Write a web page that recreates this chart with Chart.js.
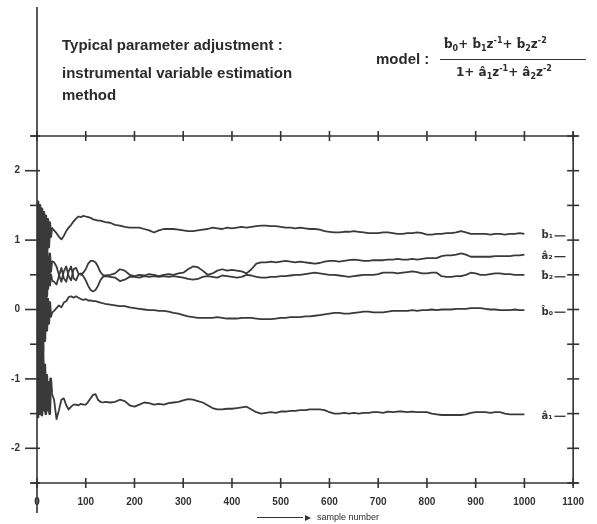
<!DOCTYPE html>
<html>
<head>
<meta charset="utf-8">
<script src="https://cdn.jsdelivr.net/npm/chart.js@4.4.0/dist/chart.umd.min.js"></script>
<style>
  body { margin: 0; background: #fff; }
  #wrap { position: relative; width: 597px; height: 524px; }
  .txt { position: absolute; font-family: 'Liberation Sans', Arial, sans-serif; font-weight: bold; color: #2b2b2b; white-space: nowrap; }
  .title { font-size: 15px; }
  .frac { font-family: 'DejaVu Sans', sans-serif; font-size: 12px; }
  .frac sub, .frac sup { font-size: 8px; }
  .rule { position: absolute; border-top: 1.5px solid #333; }
  .axisname { font-weight: normal; font-size: 9px; }
  .arrow { display: inline-block; width: 46px; border-top: 1px solid #333; vertical-align: middle; margin-right: 2px; }
  .head { display: inline-block; border-left: 6px solid #333; border-top: 3px solid transparent; border-bottom: 3px solid transparent; vertical-align: middle; margin-right: 6px; }
</style>
</head>
<body>
<div id="wrap">
  <canvas id="paramChart" width="597" height="524"></canvas>
  <div class="txt title" style="left:62px; top:36px;">Typical parameter adjustment :</div>
  <div class="txt title" style="left:62px; top:64px;">instrumental variable estimation</div>
  <div class="txt title" style="left:62px; top:86px;">method</div>
  <div class="txt title" style="left:376px; top:50px;">model :</div>
  <div class="txt frac" style="left:444px; top:36px;">b&#770;<sub>0</sub>+ b&#770;<sub>1</sub>z<sup>-1</sup>+ b&#770;<sub>2</sub>z<sup>-2</sup></div>
  <div class="rule" style="left:440px; top:59px; width:146px;"></div>
  <div class="txt frac" style="left:456px; top:64px;">1+ a&#770;<sub>1</sub>z<sup>-1</sup>+ a&#770;<sub>2</sub>z<sup>-2</sup></div>
  <div class="txt axisname" style="left:257px; top:512px;"><span class="arrow"></span><span class="head"></span>sample number</div>
</div>
<script>
// sample numbers shared by all five estimates
const samples = [
  0, 2, 4, 6, 8, 10, 12, 14, 16, 18, 20, 22, 24, 26, 28, 30,
  35, 40, 45, 50, 55, 60, 65, 70, 75, 80, 85, 90, 95, 100, 105, 110, 115, 120, 125, 130, 135, 140,
  150, 160, 170, 180, 190, 200, 210, 220, 230, 240,
  250, 260, 270, 280, 290, 300, 310, 320, 330, 340,
  350, 360, 370, 380, 390, 400, 410, 420, 430, 440,
  450, 460, 470, 480, 490, 500, 510, 520, 530, 540,
  550, 560, 570, 580, 590, 600, 610, 620, 630, 640,
  650, 660, 670, 680, 690, 700, 710, 720, 730, 740,
  750, 760, 770, 780, 790, 800, 810, 820, 830, 840,
  850, 860, 870, 880, 890, 900, 910, 920, 930, 940,
  950, 960, 970, 980, 990, 1000
];

const b1 = [
  0.2, 1.55, -0.5, 1.5, 0.1, 1.45, -0.2, 1.4, 0.5, 1.35, 0.7, 1.3, 0.9, 1.25, 1.05, 1.18,
  1.14, 1.10, 1.05, 1.01, 1.06, 1.13, 1.18, 1.22, 1.27, 1.31, 1.34, 1.33, 1.35, 1.34, 1.33, 1.32, 1.30, 1.29, 1.28, 1.28, 1.27, 1.26,
  1.25, 1.22, 1.21, 1.19, 1.18, 1.18, 1.18, 1.16, 1.14, 1.11,
  1.14, 1.16, 1.16, 1.16, 1.15, 1.14, 1.13, 1.13, 1.14, 1.15,
  1.16, 1.18, 1.17, 1.16, 1.18, 1.17, 1.18, 1.19, 1.18, 1.19,
  1.20, 1.21, 1.21, 1.20, 1.20, 1.19, 1.18, 1.18, 1.17, 1.18,
  1.17, 1.16, 1.16, 1.15, 1.13, 1.12, 1.11, 1.11, 1.12, 1.12,
  1.13, 1.12, 1.11, 1.10, 1.10, 1.10, 1.11, 1.11, 1.10, 1.09,
  1.09, 1.10, 1.10, 1.11, 1.10, 1.08, 1.08, 1.09, 1.09, 1.10,
  1.10, 1.11, 1.13, 1.11, 1.09, 1.09, 1.09, 1.09, 1.08, 1.09,
  1.09, 1.08, 1.09, 1.09, 1.10, 1.09
];

const a2 = [
  0.1, 0.8, -1.2, 0.95, -0.5, 1.0, 0.0, 0.85, -0.3, 0.9, 0.2, 0.75, 0.4, 0.8, 0.55, 0.7,
  0.68, 0.62, 0.50, 0.40, 0.55, 0.62, 0.48, 0.42, 0.58, 0.60, 0.52, 0.50, 0.53, 0.58, 0.66, 0.70, 0.70, 0.68, 0.62, 0.54, 0.50, 0.49,
  0.50, 0.52, 0.58, 0.56, 0.50, 0.48, 0.50, 0.49, 0.51, 0.50,
  0.48, 0.50, 0.51, 0.50, 0.52, 0.53, 0.58, 0.62, 0.61, 0.56,
  0.50, 0.52, 0.56, 0.58, 0.56, 0.57, 0.56, 0.55, 0.52, 0.58,
  0.66, 0.68, 0.68, 0.69, 0.68, 0.69, 0.70, 0.69, 0.68, 0.69,
  0.68, 0.67, 0.66, 0.67, 0.69, 0.70, 0.70, 0.69, 0.70, 0.71,
  0.72, 0.71, 0.70, 0.70, 0.71, 0.71, 0.71, 0.72, 0.72, 0.73,
  0.72, 0.72, 0.73, 0.72, 0.73, 0.74, 0.74, 0.74, 0.77, 0.78,
  0.78, 0.79, 0.81, 0.79, 0.76, 0.76, 0.76, 0.76, 0.76, 0.77,
  0.77, 0.77, 0.77, 0.78, 0.78, 0.79
];

const b2 = [
  -0.1, -0.9, 1.1, -0.6, 0.95, -0.3, 0.85, 0.0, 0.7, 0.15, 0.6, 0.3, 0.55, 0.35, 0.5, 0.42,
  0.40, 0.36, 0.48, 0.60, 0.45, 0.40, 0.55, 0.62, 0.45, 0.42, 0.50, 0.52, 0.48, 0.42, 0.34, 0.28, 0.26, 0.28, 0.34, 0.42, 0.47, 0.48,
  0.47, 0.46, 0.41, 0.43, 0.47, 0.47, 0.46, 0.48, 0.47, 0.48,
  0.47, 0.48, 0.47, 0.48, 0.47, 0.46, 0.44, 0.43, 0.44, 0.47,
  0.48, 0.47, 0.46, 0.49, 0.48, 0.47, 0.46, 0.47, 0.50, 0.49,
  0.47, 0.46, 0.46, 0.47, 0.47, 0.48, 0.48, 0.49, 0.50, 0.50,
  0.51, 0.52, 0.53, 0.52, 0.51, 0.50, 0.50, 0.49, 0.48, 0.47,
  0.48, 0.49, 0.50, 0.50, 0.50, 0.51, 0.53, 0.53, 0.53, 0.52,
  0.53, 0.54, 0.55, 0.54, 0.52, 0.52, 0.53, 0.53, 0.48, 0.47,
  0.47, 0.48, 0.48, 0.50, 0.53, 0.52, 0.50, 0.50, 0.51, 0.52,
  0.52, 0.51, 0.51, 0.50, 0.50, 0.50
];

const b0 = [
  0.0, 0.7, -1.1, 0.6, -0.8, 0.5, -0.6, 0.35, -0.45, 0.25, -0.3, 0.15, -0.2, 0.1, -0.1, -0.05,
  -0.02, 0.02, 0.06, 0.03, 0.10, 0.12, 0.18, 0.19, 0.17, 0.19, 0.17, 0.15, 0.14, 0.15, 0.13, 0.13, 0.12, 0.12, 0.11, 0.10, 0.09, 0.08,
  0.07, 0.06, 0.05, 0.05, 0.03, 0.02, 0.01, 0.00, -0.01, -0.01,
  -0.02, -0.02, -0.03, -0.05, -0.06, -0.08, -0.10, -0.11, -0.12, -0.12,
  -0.12, -0.12, -0.11, -0.12, -0.13, -0.13, -0.13, -0.12, -0.12, -0.12,
  -0.13, -0.14, -0.14, -0.14, -0.13, -0.12, -0.12, -0.11, -0.11, -0.11,
  -0.10, -0.10, -0.09, -0.08, -0.07, -0.06, -0.05, -0.05, -0.06, -0.06,
  -0.05, -0.04, -0.03, -0.03, -0.04, -0.04, -0.04, -0.03, -0.02, -0.02,
  -0.02, -0.02, -0.01, -0.02, -0.01, -0.01, 0.00, -0.01, 0.00, 0.00,
  0.00, 0.01, 0.01, 0.01, 0.02, 0.02, 0.02, 0.01, 0.00, 0.00,
  -0.01, -0.01, -0.01, 0.00, -0.01, -0.01
];

const a1 = [
  -0.2, -1.55, 0.4, -1.5, -0.1, -1.52, -0.5, -1.45, -0.8, -1.5, -0.95, -1.45, -1.05, -1.5, -1.0, -1.2,
  -1.30, -1.58, -1.45, -1.30, -1.28, -1.38, -1.44, -1.40, -1.37, -1.37, -1.38, -1.36, -1.37, -1.37, -1.33, -1.28, -1.23, -1.22, -1.30, -1.33, -1.34, -1.33,
  -1.34, -1.33, -1.30, -1.32, -1.38, -1.40, -1.37, -1.34, -1.35, -1.37,
  -1.36, -1.37, -1.35, -1.34, -1.33, -1.31, -1.29, -1.30, -1.32, -1.34,
  -1.38, -1.42, -1.44, -1.44, -1.43, -1.43, -1.42, -1.41, -1.40, -1.44,
  -1.48, -1.50, -1.49, -1.48, -1.49, -1.47, -1.47, -1.46, -1.46, -1.45,
  -1.45, -1.44, -1.44, -1.44, -1.45, -1.48, -1.50, -1.50, -1.49, -1.50,
  -1.49, -1.50, -1.49, -1.49, -1.48, -1.48, -1.49, -1.47, -1.48, -1.47,
  -1.47, -1.48, -1.47, -1.48, -1.48, -1.48, -1.50, -1.51, -1.52, -1.52,
  -1.52, -1.52, -1.52, -1.51, -1.49, -1.48, -1.48, -1.48, -1.49, -1.48,
  -1.48, -1.50, -1.51, -1.51, -1.51, -1.51
];

const seriesNames = ['b\u0302\u2081', 'a\u0302\u2082', 'b\u0302\u2082', 'b\u0302\u2080', 'a\u0302\u2081'];
const seriesValues = [b1, a2, b2, b0, a1];

const ink = '#3a3a3a';

function line(ctx, x1, y1, x2, y2) {
  ctx.beginPath();
  ctx.moveTo(x1, y1);
  ctx.lineTo(x2, y2);
  ctx.stroke();
}

// box, crossing ticks and the end labels of each estimate
const framePlugin = {
  id: 'frame',
  afterDatasetsDraw(chart) {
    const { ctx, chartArea: a, scales: { x, y } } = chart;
    ctx.save();
    ctx.strokeStyle = '#333';
    ctx.lineWidth = 1.6;
    const x0 = x.getPixelForValue(0);
    line(ctx, x0, 7, x0, 513);
    line(ctx, a.left - 6, a.top, a.right + 4, a.top);
    line(ctx, a.left - 6, a.bottom, a.right + 5, a.bottom);
    line(ctx, a.right, a.top - 4, a.right, a.bottom + 3);

    x.ticks.forEach(t => {
      const px = x.getPixelForValue(t.value);
      line(ctx, px, a.top - 5, px, a.top + 5);
      line(ctx, px, a.bottom - 5, px, a.bottom + 5);
    });
    y.ticks.forEach(t => {
      const py = y.getPixelForValue(t.value);
      const major = Number.isInteger(t.value);
      line(ctx, a.left - (major ? 12 : 7), py, a.left + 3, py);
      line(ctx, a.right - 6, py, a.right + 6, py);
    });

    ctx.fillStyle = '#333';
    ctx.font = 'bold 10px "DejaVu Sans", sans-serif';
    ctx.textBaseline = 'middle';
    ctx.lineWidth = 1.3;
    const lx = x.getPixelForValue(1035);
    chart.data.datasets.forEach((ds, i) => {
      const last = ds.data[ds.data.length - 1];
      const py = y.getPixelForValue(last.y) + 2;
      ctx.fillText(seriesNames[i], lx, py);
      line(ctx, lx + 13, py, lx + 24, py);
    });
    ctx.restore();
  }
};

const ctx = document.getElementById('paramChart').getContext('2d');
new Chart(ctx, {
  type: 'line',
  data: {
    datasets: seriesValues.map((vals, i) => ({
      label: seriesNames[i],
      data: samples.map((s, k) => ({ x: s, y: vals[k] })),
      borderColor: ink,
      borderWidth: 1.8,
      pointRadius: 0,
      tension: 0,
      borderJoinStyle: 'round',
      // the start-up transient reads as a dark smeared band in the original
      segment: { borderWidth: c => c.p0.parsed.x < 30 ? 2.8 : 1.8 }
    }))
  },
  options: {
    responsive: false,
    animation: false,
    layout: { padding: { top: 136, right: 20, left: 0, bottom: 0 } },
    plugins: { legend: { display: false }, tooltip: { enabled: false } },
    scales: {
      x: {
        type: 'linear',
        min: 0,
        max: 1100,
        afterFit: s => { s.height = 41; },
        grid: { display: false, drawTicks: false },
        border: { display: false },
        ticks: {
          stepSize: 100,
          autoSkip: false,
          maxRotation: 0,
          padding: 13,
          color: '#333',
          font: { family: 'Liberation Sans', size: 10, weight: 'bold' },
          callback: v => String(v)
        }
      },
      y: {
        min: -2.5,
        max: 2.5,
        afterFit: s => { s.width = 37; },
        grid: { display: false, drawTicks: false },
        border: { display: false },
        ticks: {
          stepSize: 0.5,
          padding: 17,
          color: '#333',
          font: { family: 'Liberation Sans', size: 10, weight: 'bold' },
          callback: v => Number.isInteger(v) ? String(v) : ''
        }
      }
    }
  },
  plugins: [framePlugin]
});
</script>
</body>
</html>
